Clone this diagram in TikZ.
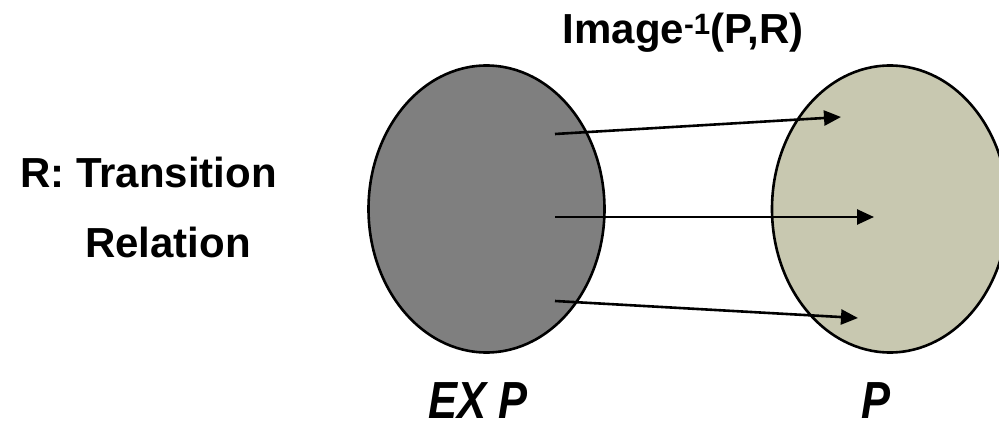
\documentclass[tikz,border=0pt]{standalone}
\usepackage{fontspec}
\setmainfont{Liberation Sans}
\usetikzlibrary{shapes.geometric,arrows.meta}
\definecolor{darkset}{RGB}{127,127,127}
\definecolor{lightset}{RGB}{200,200,176}
\tikzset{
  setshape/.style={ellipse, draw=black, line width=2.6pt, minimum width=236pt, minimum height=287pt, inner sep=0pt},
  maparrow/.style={line width=2.6pt, -{Triangle[length=17pt,width=15pt]}},
  bigtext/.style={font=\fontsize{42}{50}\selectfont\bfseries, inner sep=0pt},
  labeltext/.style={font=\fontsize{43.5}{50}\selectfont\bfseries\itshape, inner sep=0pt}
}
\begin{document}
\begin{tikzpicture}[x=1pt,y=-1pt]
\useasboundingbox (0,0) rectangle (999,430);
\node[setshape, fill=darkset] (exp) at (486.5,209) {};
\node[setshape, fill=lightset] (p) at (890,209) {};
\coordinate (s1) at (555,134);
\coordinate (s2) at (555,217);
\coordinate (s3) at (555,301);
\coordinate (t1) at (841,117);
\coordinate (t2) at (874,217);
\coordinate (t3) at (858,318);
\draw[maparrow] (s1) -- (t1);
\draw[maparrow] (s2) -- (t2);
\draw[maparrow] (s3) -- (t3);
\node[bigtext, anchor=base] (title) at (683,44) {Image\textsuperscript{-1}(P,R)};
\node[bigtext, anchor=base west] (rel1) at (20,188) {R: Transition};
\node[bigtext, anchor=base west] (rel2) at (85,258) {Relation};
\node[labeltext, anchor=base] (explabel) at (478,418) {\scalebox{1}[1.2]{EX P}};
\node[labeltext, anchor=base] (plabel) at (876,418) {\scalebox{1}[1.2]{P}};
\end{tikzpicture}
\end{document}
